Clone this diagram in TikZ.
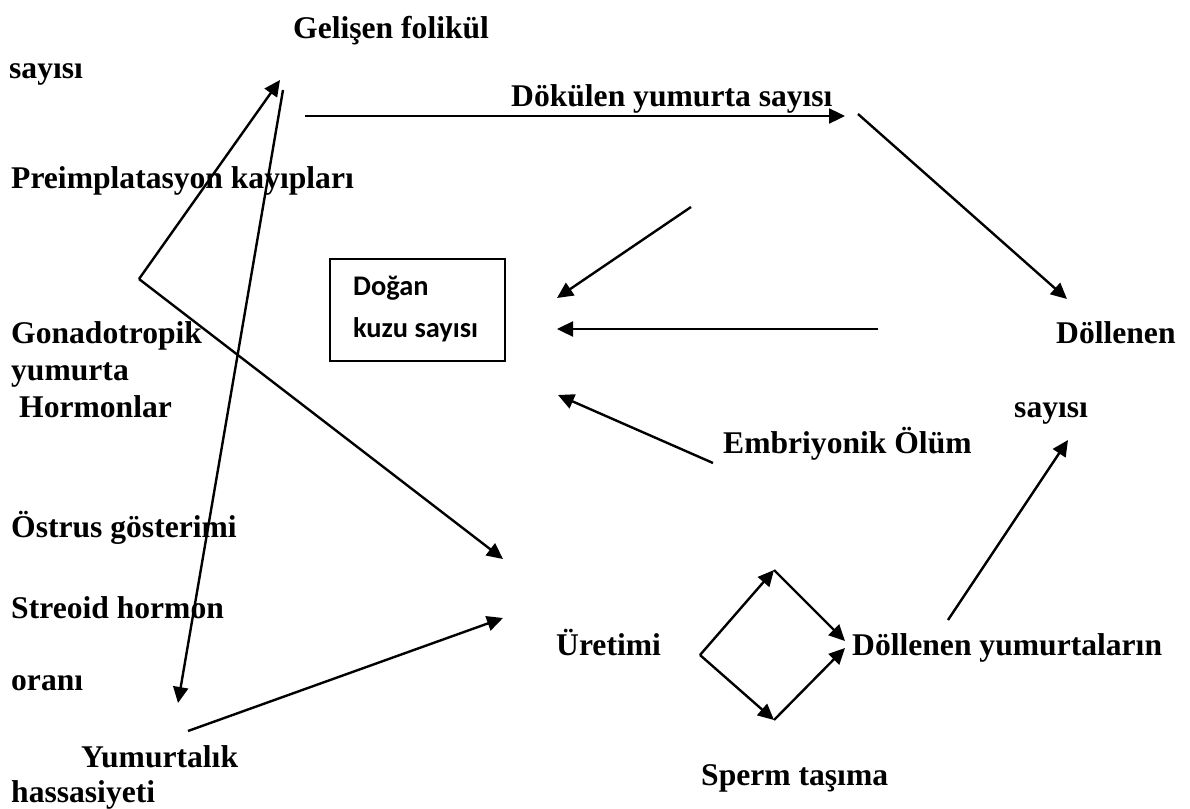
\documentclass[tikz,border=0pt]{standalone}
\usepackage{fontspec}
\setmainfont{Liberation Serif}
\newfontfamily\boxfont{Carlito}
\usetikzlibrary{arrows.meta}

\begin{document}
\begin{tikzpicture}[x=0.5pt, y=-0.5pt, line width=1.2pt,
    >={Triangle[length=8pt, width=7.5pt]},
    lbl/.style={anchor=base west, inner sep=0pt, font=\fontsize{15.8}{19}\selectfont\bfseries},
    boxlbl/.style={anchor=base west, inner sep=0pt, font=\boxfont\fontsize{14.2}{17}\selectfont\bfseries}]
    \useasboundingbox (0,0) rectangle (1190,809);

    % labels
    \node[lbl] (gelisen) at (292,38) {Gelişen folikül};
    \node[lbl] (sayisiA) at (8,78) {sayısı};
    \node[lbl] (dokulen) at (510,106) {Dökülen yumurta sayısı};
    \node[lbl] (preimp) at (10,188) {Preimplatasyon kayıpları};
    \node[lbl] (gonado) at (10,343) {Gonadotropik};
    \node[lbl] (yumurta) at (10,380) {yumurta};
    \node[lbl] (hormon) at (18,417) {Hormonlar};
    \node[lbl] (dollenen) at (1055,343) {Döllenen};
    \node[lbl] (sayisiB) at (1013,417) {sayısı};
    \node[lbl] (embriyo) at (722,453) {Embriyonik Ölüm};
    \node[lbl] (ostrus) at (10,537) {Östrus gösterimi};
    \node[lbl] (streoid) at (10,618) {Streoid hormon};
    \node[lbl] (uretimi) at (555,655) {Üretimi};
    \node[lbl] (dolyum) at (851,655) {Döllenen yumurtaların};
    \node[lbl] (orani) at (10,690) {oranı};
    \node[lbl] (yumurtalik) at (80,767) {Yumurtalık};
    \node[lbl] (sperm) at (700,785) {Sperm taşıma};
    \node[lbl] (hassas) at (10,802) {hassasiyeti};

    % box
    \node[draw, anchor=north west, inner sep=0pt, minimum width=87.5pt, minimum height=51pt] (kuzu) at (329,258) {};
    \node[boxlbl] (dogan) at (352,295) {Doğan};
    \node[boxlbl] (kuzusay) at (352,337) {kuzu sayısı};

    % arrow ends
    \coordinate (v) at (139,279);
    \coordinate (gtip) at (280,80);
    \coordinate (utipA) at (503,559);
    \coordinate (gtop) at (283,90);
    \coordinate (otip) at (178,703);
    \coordinate (ybase) at (188,731);
    \coordinate (utipB) at (503,618);
    \coordinate (hstart) at (305,116);
    \coordinate (hend) at (845,116);
    \coordinate (dstart) at (858,114);
    \coordinate (dtip) at (1067,299);
    \coordinate (pstart) at (691,207);
    \coordinate (ptipA) at (557,298);
    \coordinate (dolstart) at (878,329);
    \coordinate (ptipB) at (557,329);
    \coordinate (estart) at (713,463);
    \coordinate (ptipC) at (558,395);
    \coordinate (dl) at (700,655);
    \coordinate (dt) at (774,570);
    \coordinate (db) at (774,720);
    \coordinate (drA) at (845,641);
    \coordinate (drB) at (845,648);
    \coordinate (fstart) at (948,620);
    \coordinate (ftip) at (1068,440);

    % arrows
    \draw (v) edge[->] (gtip);
    \draw (v) edge[->] (utipA);
    \draw (gtop) edge[->] (otip);
    \draw (ybase) edge[->] (utipB);
    \draw (hstart) edge[->] (hend);
    \draw (dstart) edge[->] (dtip);
    \draw (pstart) edge[->] (ptipA);
    \draw (dolstart) edge[->] (ptipB);
    \draw (estart) edge[->] (ptipC);
    \draw (dl) edge[->] (dt);
    \draw (dl) edge[->] (db);
    \draw (dt) edge[->] (drA);
    \draw (db) edge[->] (drB);
    \draw (fstart) edge[->] (ftip);
\end{tikzpicture}
\end{document}
